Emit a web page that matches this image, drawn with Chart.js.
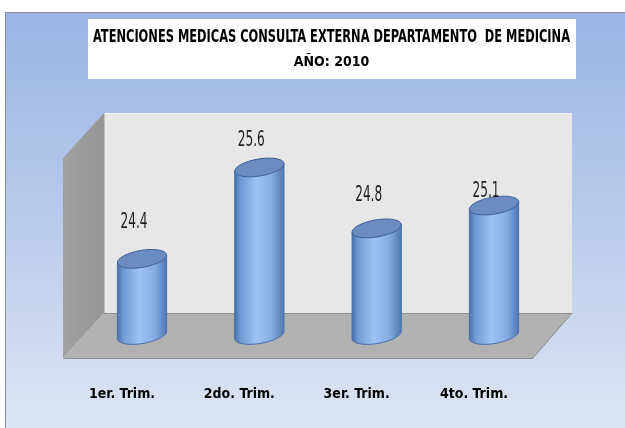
<!DOCTYPE html>
<html>
<head>
<meta charset="utf-8">
<script src="https://cdn.jsdelivr.net/npm/chart.js@4.4.1/dist/chart.umd.min.js"></script>
<style>
  html, body { margin: 0; padding: 0; background: #ffffff; }
  #wrap { width: 625px; height: 428px; position: relative; }
</style>
</head>
<body>
<div id="wrap"><canvas id="c" width="625" height="428"></canvas></div>
<script>
// ---- data ----
const categories = ['1er. Trim.', '2do. Trim.', '3er. Trim.', '4to. Trim.'];
const values = [24.4, 25.6, 24.8, 25.1];
const valueLabels = ['24.4', '25.6', '24.8', '25.1'];
const titleText = 'ATENCIONES MEDICAS CONSULTA EXTERNA DEPARTAMENTO  DE MEDICINA';
const subtitleText = 'AÑO: 2010';
const axisMin = 23.4;
const axisMax = 26.0;

// ---- styling / decoration ----
const FONT = "'Liberation Sans Narrow', 'DejaVu Sans Condensed', sans-serif";
const labelLift = [37, 27, 33, 14];   // label distance above bar top (px)
const labelShiftX = -8;

function poly(ctx, pts) {
  ctx.beginPath();
  ctx.moveTo(pts[0][0], pts[0][1]);
  for (let i = 1; i < pts.length; i++) ctx.lineTo(pts[i][0], pts[i][1]);
  ctx.closePath();
}

const backdrop = {
  id: 'backdrop',
  beforeDraw(chart) {
    const ctx = chart.ctx;
    ctx.save();
    ctx.fillStyle = '#ffffff';
    ctx.fillRect(0, 0, chart.width, chart.height);
    const g = ctx.createLinearGradient(0, 12, 0, 428);
    g.addColorStop(0, '#9ab4e3');
    g.addColorStop(0.5, '#b9cbeb');
    g.addColorStop(1, '#dde5f4');
    ctx.fillStyle = g;
    ctx.fillRect(5.5, 12.5, 640, 440);
    ctx.strokeStyle = '#8a8f98';
    ctx.lineWidth = 1;
    ctx.strokeRect(5.5, 12.5, 640, 440);
    ctx.fillStyle = '#ffffff';
    ctx.fillRect(88, 19, 488, 60);

    const sg = ctx.createLinearGradient(63, 0, 104, 0);
    sg.addColorStop(0, '#a2a2a2');
    sg.addColorStop(1, '#959595');
    ctx.fillStyle = sg;
    poly(ctx, [[63, 158], [104, 113], [104, 313], [63, 358]]);
    ctx.fill();
    ctx.fillStyle = '#e7e7e7';
    ctx.fillRect(104, 113, 468, 200);
    ctx.strokeStyle = '#f2f2f2';
    ctx.beginPath(); ctx.moveTo(104, 113.5); ctx.lineTo(572, 113.5); ctx.stroke();
    ctx.strokeStyle = '#c4c4c4';
    ctx.beginPath(); ctx.moveTo(104.5, 113); ctx.lineTo(104.5, 313); ctx.stroke();
    ctx.fillStyle = '#b1b1b1';
    poly(ctx, [[104, 313], [572, 313], [533, 358], [63, 358]]);
    ctx.fill();
    ctx.strokeStyle = '#8c8c8c';
    ctx.beginPath();
    ctx.moveTo(104, 313.5); ctx.lineTo(572, 313.5);
    ctx.moveTo(63, 358.5); ctx.lineTo(533, 358.5);
    ctx.moveTo(572, 313); ctx.lineTo(533, 358);
    ctx.stroke();
    ctx.restore();
  }
};

const cylinders = {
  id: 'cylinders',
  afterDatasetsDraw(chart) {
    const ctx = chart.ctx;
    const meta = chart.getDatasetMeta(0);
    const th = -0.17;
    meta.data.forEach((el, i) => {
      const p = el.getProps(['x', 'y', 'base', 'width'], true);
      const cx = p.x, top = p.y, bot = p.base;
      const rx = p.width / 2, ry = 8.5;
      const tR = Math.atan2(-ry * Math.sin(th), rx * Math.cos(th));
      const tL = tR + Math.PI;
      const pt = (cy, t) => [
        cx + rx * Math.cos(t) * Math.cos(th) - ry * Math.sin(t) * Math.sin(th),
        cy + rx * Math.cos(t) * Math.sin(th) + ry * Math.sin(t) * Math.cos(th)
      ];
      ctx.save();
      const a = pt(top, tL), b = pt(bot, tL), d = pt(top, tR);
      ctx.beginPath();
      ctx.moveTo(a[0], a[1]);
      ctx.lineTo(b[0], b[1]);
      ctx.ellipse(cx, bot, rx, ry, th, tL, tR, true);
      ctx.lineTo(d[0], d[1]);
      ctx.closePath();
      const bg = ctx.createLinearGradient(cx - rx, 0, cx + rx, 0);
      bg.addColorStop(0, '#466da8');
      bg.addColorStop(0.12, '#6f99d4');
      bg.addColorStop(0.45, '#9cc3f1');
      bg.addColorStop(0.75, '#86ade3');
      bg.addColorStop(1, '#4f76b0');
      ctx.fillStyle = bg;
      ctx.fill();
      ctx.strokeStyle = '#4a6fa8';
      ctx.lineWidth = 1;
      ctx.stroke();
      ctx.beginPath();
      ctx.ellipse(cx, top, rx, ry, th, 0, Math.PI * 2);
      ctx.fillStyle = '#6b8cc1';
      ctx.fill();
      ctx.strokeStyle = '#3c5f99';
      ctx.stroke();
      ctx.fillStyle = '#1e1e1e';
      ctx.font = '22px ' + FONT;
      ctx.textAlign = 'center';
      ctx.textBaseline = 'middle';
      ctx.fillText(valueLabels[i], cx + labelShiftX, top - labelLift[i], 27);
      ctx.restore();
    });
  }
};

new Chart(document.getElementById('c'), {
  type: 'bar',
  data: {
    labels: categories,
    datasets: [{
      data: values,
      base: axisMin,
      backgroundColor: 'rgba(0,0,0,0)',
      borderWidth: 0,
      barPercentage: 0.425,
      categoryPercentage: 1.0
    }]
  },
  options: {
    responsive: false,
    animation: false,
    devicePixelRatio: 1,
    layout: { padding: { left: 93, right: 55, top: 25, bottom: -25.2 } },
    plugins: {
      legend: { display: false },
      tooltip: { enabled: false },
      title: {
        display: true,
        text: titleText,
        color: '#000000',
        font: { family: FONT, size: 18, weight: 'bold', lineHeight: 1.389 },
        padding: { top: 0, bottom: 0 }
      },
      subtitle: {
        display: true,
        text: subtitleText,
        color: '#000000',
        font: { family: FONT, size: 14, weight: 'bold', lineHeight: 1.786 },
        padding: { top: 0, bottom: 62 }
      }
    },
    scales: {
      x: {
        offset: false,
        grid: { display: false, drawTicks: false },
        border: { display: false },
        ticks: {
          color: '#000000',
          font: { family: FONT, size: 14, weight: 'bold' },
          padding: 50.7,
          labelOffset: -20,
          maxRotation: 0,
          autoSkip: false
        }
      },
      y: {
        position: 'left',
        min: axisMin,
        max: axisMax,
        grid: { display: false, drawTicks: false },
        border: { display: false },
        ticks: { display: false },
        afterFit(scale) { scale.width = 49; }
      },
      yRight: {
        type: 'linear',
        position: 'right',
        grid: { display: false, drawTicks: false },
        border: { display: false },
        ticks: { display: false },
        afterFit(scale) { scale.width = 76; }
      }
    }
  },
  plugins: [backdrop, cylinders]
});
</script>
</body>
</html>
